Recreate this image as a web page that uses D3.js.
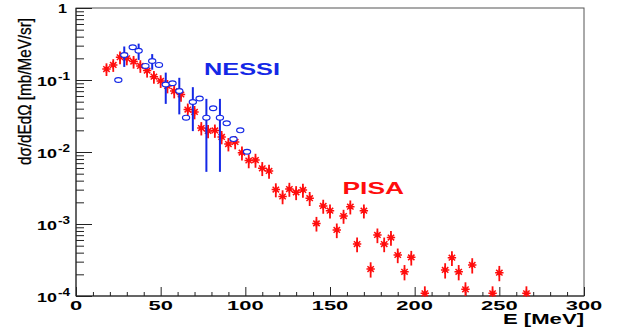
<!DOCTYPE html>
<html>
<head>
<meta charset="utf-8">
<script src="https://cdn.jsdelivr.net/npm/d3@7"></script>
<style>
  html, body { margin: 0; padding: 0; background: #fff; }
  svg { display: block; }
  text { font-family: "Liberation Sans", Arial, Helvetica, sans-serif; }
</style>
</head>
<body>
<svg id="chart" width="617" height="331"></svg>
<script>
// PISA spectrum: proton energy (MeV), cross section (mb/MeV/sr), relative uncertainty
const pisaE = [18, 22, 26, 30, 34, 38, 42, 46, 50, 54, 58, 62, 66, 70, 74, 78, 82, 86, 90, 94,
  98, 102, 106, 110, 114, 118, 122, 126, 130, 134, 138, 142, 146, 150, 154, 158, 162, 166, 170, 174,
  178, 182, 186, 190, 194, 198, 206, 218, 222, 226, 230, 234, 246, 250, 266];
const pisaXS = [0.142, 0.162, 0.207, 0.200, 0.180, 0.157, 0.135, 0.111, 0.097, 0.0826,
  0.0703, 0.0629, 0.0389, 0.0360, 0.0215, 0.0196, 0.0199, 0.0162, 0.0129, 0.0138,
  0.0098, 0.00762, 0.00774, 0.00594, 0.00545, 0.00301, 0.00241, 0.00306, 0.00275, 0.00297,
  0.00228, 0.00102, 0.00178, 0.00153, 0.000826, 0.00129, 0.00174, 0.000527, 0.00153, 0.000237,
  0.000704, 0.000527, 0.000649, 0.000371, 0.000217, 0.000344, 0.000109, 0.000230, 0.000340, 0.000217,
  0.000124, 0.000270, 0.000109, 0.000211, 0.000109];
const pisaRelErr = [0.20, 0.20, 0.20, 0.20, 0.20, 0.20, 0.20, 0.20, 0.20, 0.21,
  0.21, 0.21, 0.21, 0.21, 0.21, 0.21, 0.21, 0.21, 0.21, 0.21,
  0.22, 0.22, 0.22, 0.22, 0.22, 0.22, 0.22, 0.22, 0.22, 0.22,
  0.22, 0.23, 0.22, 0.22, 0.23, 0.22, 0.22, 0.23, 0.22, 0.24,
  0.23, 0.23, 0.23, 0.23, 0.24, 0.23, 0.25, 0.24, 0.23, 0.24,
  0.25, 0.24, 0.25, 0.24, 0.25];

// NESSI spectrum: proton energy (MeV), cross section, absolute uncertainty (0 = no bar)
const nessiE = [25, 28.5, 33.5, 37, 41, 45, 49, 53, 57, 61, 65, 69, 73, 77, 81, 85, 89, 93, 97, 101];
const nessiXS = [0.100, 0.222, 0.285, 0.255, 0.157, 0.184, 0.162, 0.0866, 0.090, 0.0703,
  0.030, 0.0495, 0.0553, 0.030, 0.0405, 0.030, 0.025, 0.0151, 0.020, 0.0101];
const nessiErr = [0, 0.07, 0, 0.065, 0, 0.045, 0, 0.04, 0, 0.037,
  0, 0.03, 0, 0.0247, 0, 0.0247, 0, 0, 0, 0];

// Axis ticks and labels
const xMajorTicks = [0, 50, 100, 150, 200, 250, 300];
const yDecades = [1e-4, 1e-3, 1e-2, 1e-1, 1];
const yDecadeExp = [-4, -3, -2, -1, 0];

const red = "#ff0d0d";
const blue = "#1428e6";

const svg = d3.select("#chart");
const x = d3.scaleLinear().domain([0, 300]).range([76, 584]);
const y = d3.scaleLog().domain([1e-4, 1]).range([296, 8]);

// frame
svg.append("rect")
  .attr("x", 76).attr("y", 8).attr("width", 508).attr("height", 288)
  .attr("fill", "none").attr("stroke", "#555").attr("stroke-width", 1);

// x axis: major and minor ticks pointing inward
const xMinor = d3.range(0, 301, 10).filter(v => v % 50 !== 0);
const xAxisG = svg.append("g").attr("transform", "translate(0,296)");
xAxisG.call(d3.axisBottom(x).tickValues(xMinor).tickSize(-4).tickFormat(""));
xAxisG.call(g => g.select(".domain").remove());
const xAxisMajor = svg.append("g").attr("transform", "translate(0,296)");
xAxisMajor.call(d3.axisBottom(x).tickValues(xMajorTicks).tickSize(-9).tickFormat(""));
xAxisMajor.select(".domain").attr("stroke", "#222").attr("d", "M76,0H584");

// x tick labels, wide bold glyphs
xMajorTicks.forEach(v => {
  const s = String(v);
  svg.append("text")
    .attr("x", x(v)).attr("y", 310)
    .attr("text-anchor", "middle")
    .attr("font-weight", "bold").attr("font-size", 13.5)
    .attr("textLength", s.length * 12.2).attr("lengthAdjust", "spacingAndGlyphs")
    .text(s);
});

// y axis: decades and minor ticks
const yMinor = [];
yDecades.slice(0, 4).forEach(d => { for (let k = 2; k <= 9; k++) yMinor.push(d * k); });
const yAxisG = svg.append("g").attr("transform", "translate(76,0)");
yAxisG.call(d3.axisLeft(y).tickValues(yMinor).tickSize(-8).tickFormat(""));
yAxisG.call(g => g.select(".domain").remove());
const yAxisMajor = svg.append("g").attr("transform", "translate(76,0)");
yAxisMajor.call(d3.axisLeft(y).tickValues(yDecades).tickSize(-16).tickFormat(""));
yAxisMajor.select(".domain").attr("stroke", "#222").attr("d", "M0,8V296");
svg.selectAll(".tick line").attr("stroke", "#222");

// y tick labels: 1 and 10^n
yDecades.forEach((d, i) => {
  const e = yDecadeExp[i];
  if (e === 0) {
    svg.append("text").attr("x", 67).attr("y", y(d) + 5)
      .attr("text-anchor", "end").attr("font-weight", "bold").attr("font-size", 13.5)
      .attr("textLength", 9).attr("lengthAdjust", "spacingAndGlyphs").text("1");
  } else {
    const t = svg.append("text").attr("y", y(d) + 6)
      .attr("font-weight", "bold").attr("font-size", 13.5);
    t.append("tspan").attr("x", 37).text("10")
      .attr("textLength", 20).attr("lengthAdjust", "spacingAndGlyphs");
    t.append("tspan").attr("x", 58).attr("dy", -6).attr("font-size", 10).text("-" + Math.abs(e))
      .attr("textLength", 12).attr("lengthAdjust", "spacingAndGlyphs");
  }
});

// axis titles
svg.append("text")
  .attr("x", 584).attr("y", 324).attr("text-anchor", "end")
  .attr("font-weight", "bold").attr("font-size", 14)
  .attr("textLength", 81).attr("lengthAdjust", "spacingAndGlyphs")
  .text("E [MeV]");
svg.append("text")
  .attr("transform", "translate(31,18) rotate(-90) scale(1,1.2)")
  .attr("text-anchor", "end").attr("font-size", 15)
  .attr("textLength", 147).attr("lengthAdjust", "spacingAndGlyphs")
  .attr("stroke", "#000").attr("stroke-width", 0.25)
  .text("dσ/dEdΩ [mb/MeV/sr]");

// data labels
svg.append("text").attr("x", 204).attr("y", 75)
  .attr("font-weight", "bold").attr("font-size", 16.5).attr("fill", blue)
  .attr("textLength", 76).attr("lengthAdjust", "spacingAndGlyphs").text("NESSI");
svg.append("text").attr("x", 342.5).attr("y", 194)
  .attr("font-weight", "bold").attr("font-size", 16.5).attr("fill", red)
  .attr("textLength", 61.5).attr("lengthAdjust", "spacingAndGlyphs").text("PISA");

const plot = svg.append("g");

// PISA error bars and asterisk markers
const pisa = pisaE.map((e, i) => ({ e, v: pisaXS[i], r: pisaRelErr[i] }));
plot.append("g").selectAll("line").data(pisa).join("line")
  .attr("x1", d => x(d.e)).attr("x2", d => x(d.e))
  .attr("y1", d => y(d.v * (1 + d.r))).attr("y2", d => Math.min(296, y(d.v * (1 - d.r))))
  .attr("stroke", red).attr("stroke-width", 1.8);
const star = "M-4.2,0H4.2M0,-3.8V3.8M-3.2,-2.8L3.2,2.8M-3.2,2.8L3.2,-2.8";
plot.append("g").selectAll("path").data(pisa).join("path")
  .attr("transform", d => `translate(${x(d.e)},${y(d.v)})`)
  .attr("d", star).attr("stroke", red).attr("stroke-width", 1.5).attr("fill", "none");

// NESSI error bars and open circle markers
const nessi = nessiE.map((e, i) => ({ e, v: nessiXS[i], err: nessiErr[i] }));
plot.append("g").selectAll("line").data(nessi.filter(d => d.err > 0)).join("line")
  .attr("x1", d => x(d.e)).attr("x2", d => x(d.e))
  .attr("y1", d => y(d.v + d.err)).attr("y2", d => y(d.v - d.err))
  .attr("stroke", blue).attr("stroke-width", 2);
plot.append("g").selectAll("ellipse").data(nessi).join("ellipse")
  .attr("cx", d => x(d.e)).attr("cy", d => y(d.v))
  .attr("rx", 3.6).attr("ry", 2.4)
  .attr("fill", "#fff").attr("stroke", blue).attr("stroke-width", 1.2);
</script>
</body>
</html>
